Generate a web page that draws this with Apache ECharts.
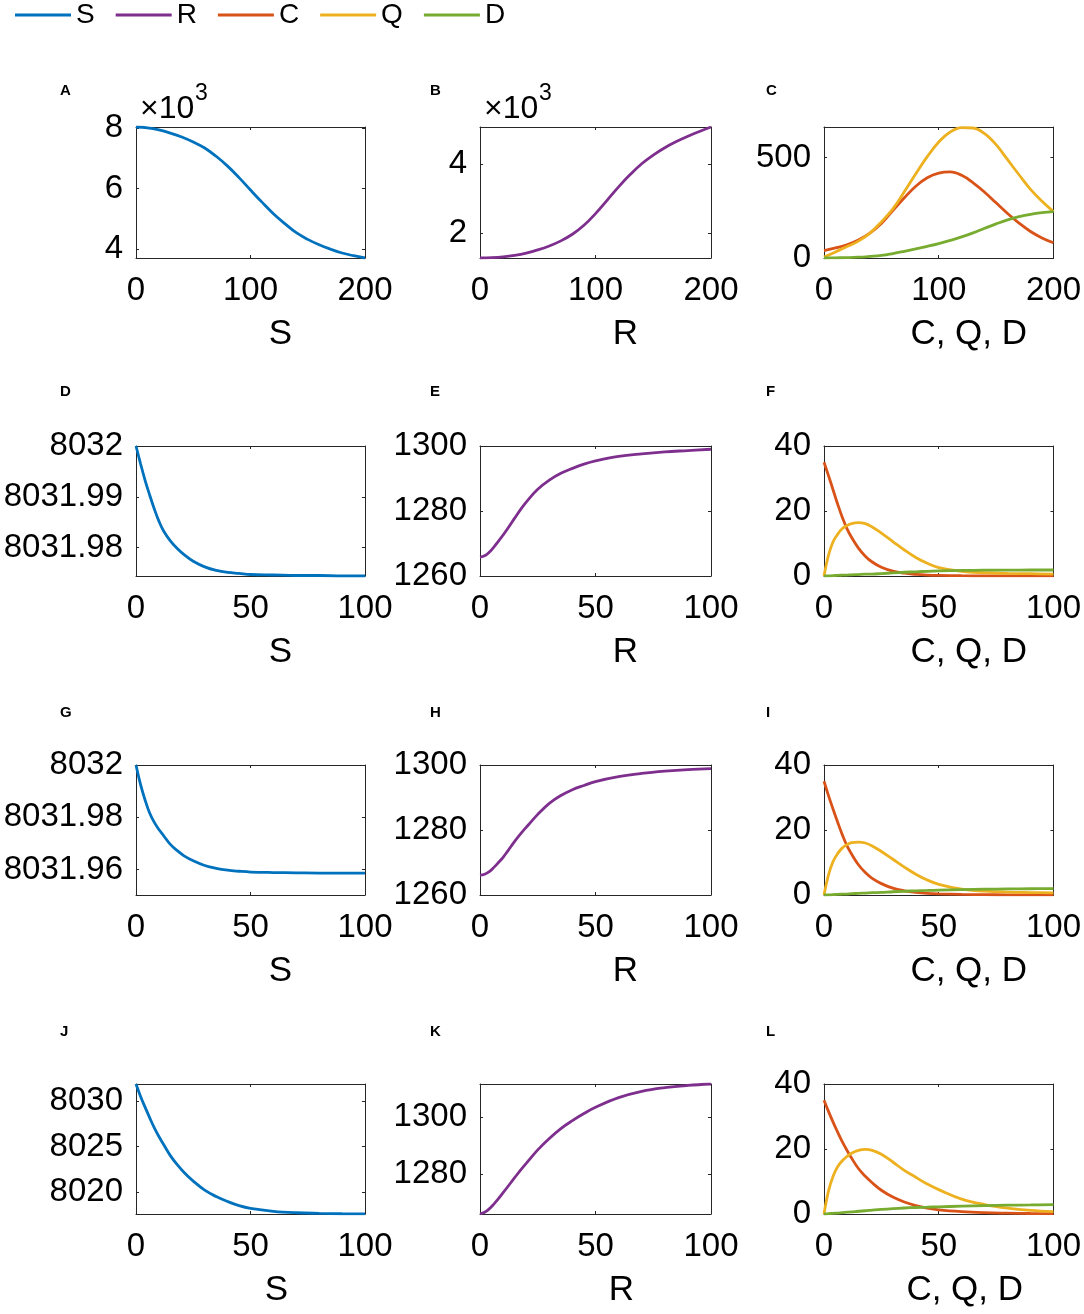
<!DOCTYPE html>
<html>
<head>
<meta charset="utf-8">
<script src="https://cdn.jsdelivr.net/npm/echarts@6/dist/echarts.min.js"></script>
<style>
html,body{margin:0;padding:0;background:#fff;}
#chart{width:1084px;height:1314px;}
</style>
</head>
<body>
<div id="chart"></div>
<script>
// ---------- DATA ----------
const seriesNames = ['S', 'R', 'C', 'Q', 'D'];
const panelLetters = ['A','B','C','D','E','F','G','H','I','J','K','L'];
const xLabels = ['S', 'R', 'C, Q, D'];

// time grids
const tMid = [0,10,20,30,40,50,60,70,80,90,100,110,120,130,140,150,160,170,180,190,200];
const tShort = [0,2,4,6,8,10,12,15,18,21,25,30,35,40,45,50,60,70,80,90,100];

// x ticks
const xTicksLong = [0,100,200];
const xTicksShort = [0,50,100];

// Row 1 (A, B, C)
const A_S = [8032,8005,7935,7830,7700,7535,7340,7065,6740,6360,5950,5550,5170,4840,4540,4320,4140,3995,3870,3780,3705];
const B_R = [1265,1275,1300,1345,1410,1500,1615,1765,1958,2220,2560,2950,3342,3700,4016,4270,4485,4665,4821,4960,5090];
const C_C = [37,50,66,90,124,172,236,300,358,400,423,429,412,375,328,275,222,174,132,100,76];
const C_Q = [5,30,57,84,124,180,245,330,420,505,578,628,650,648,620,565,490,415,342,283,231];
const C_D = [0,1,2,4,8,13,22,33,45,58,72,88,105,125,148,170,190,206,218,226,231];

// Row 2 (D, E, F)
const D_S = [8032.0000,8031.9965,8031.9932,8031.9903,8031.9876,8031.9852,8031.9833,8031.9813,8031.9798,8031.9786,8031.9773,8031.9762,8031.9755,8031.9751,8031.9749,8031.9747,8031.9746,8031.9745,8031.9745,8031.9744,8031.9744];
const E_R = [1265.8,1266.2,1267.3,1268.9,1270.7,1272.6,1274.6,1277.8,1280.9,1283.6,1286.7,1289.5,1291.6,1293.1,1294.4,1295.4,1296.8,1297.6,1298.2,1298.6,1299.0];
const F_C = [35,30.8,26.4,22.0,18.0,14.6,11.9,8.6,6.1,4.3,2.7,1.5,0.85,0.5,0.3,0.2,0.1,0.05,0.03,0.02,0.01];
const F_Q = [0,6.5,10.6,12.9,14.6,15.5,16.1,16.4,16.1,15.1,13.2,10.6,8.0,5.7,3.9,2.6,1.4,1.0,0.8,0.7,0.6];
const F_D = [0,0.05,0.1,0.2,0.25,0.3,0.35,0.45,0.55,0.6,0.75,0.95,1.15,1.3,1.45,1.55,1.7,1.78,1.82,1.84,1.85];

// Row 3 (G, H, I)
const G_S = [8032.0000,8031.9925,8031.9865,8031.9815,8031.9780,8031.9753,8031.9730,8031.9696,8031.9672,8031.9652,8031.9633,8031.9615,8031.9604,8031.9597,8031.9593,8031.9590,8031.9588,8031.9587,8031.9586,8031.9586,8031.9586];
const H_R = [1266.1,1266.4,1267.2,1268.5,1270.0,1271.6,1273.5,1276.5,1279.2,1281.6,1284.8,1288.2,1290.6,1292.4,1293.7,1294.9,1296.4,1297.4,1298.1,1298.6,1298.9];
const I_C = [35,30.5,26.3,22.3,18.5,15.2,12.6,9.3,6.9,5.1,3.5,2.1,1.3,0.8,0.5,0.35,0.2,0.1,0.06,0.04,0.03];
const I_Q = [0,6.3,10.4,12.8,14.5,15.5,16.1,16.3,16.0,15.1,13.4,11.0,8.6,6.4,4.6,3.3,1.8,1.2,0.9,0.75,0.65];
const I_D = [0,0.05,0.1,0.2,0.25,0.3,0.4,0.5,0.6,0.7,0.8,1.0,1.15,1.3,1.4,1.5,1.65,1.78,1.87,1.93,1.97];

// Row 4 (J, K, L)
const J_S = [8031.87,8030.5,8029.3,8028.15,8027.05,8026.1,8025.25,8024.0,8023.0,8022.15,8021.2,8020.2,8019.5,8018.95,8018.5,8018.2,8017.88,8017.72,8017.65,8017.61,8017.6];
const K_R = [1265.9,1266.5,1267.7,1269.4,1271.3,1273.4,1275.5,1278.7,1281.8,1284.7,1288.5,1292.5,1296.0,1298.8,1301.3,1303.5,1306.9,1309.1,1310.4,1311.2,1311.7];
const L_C = [35,31.5,28.2,25.1,22.2,19.6,17.2,14.0,11.6,9.6,7.3,5.2,3.7,2.6,1.8,1.25,0.7,0.4,0.25,0.15,0.1];
const L_Q = [0,7.2,11.7,14.6,16.4,17.7,18.7,19.6,19.9,19.6,18.4,16.0,13.4,11.3,9.2,7.5,4.6,2.9,1.8,1.1,0.7];
const L_D = [0,0.1,0.2,0.3,0.45,0.55,0.65,0.85,1.0,1.2,1.4,1.65,1.85,2.0,2.1,2.2,2.4,2.55,2.7,2.8,2.9];

// y-axis ranges and tick labels per panel
const yRanges = [
  [3705, 8032], [1265, 5090], [0, 653],
  [8031.9744, 8032], [1260, 1300], [0, 40],
  [8031.9502, 8032], [1260, 1300], [0, 40],
  [8017.58, 8031.87], [1265.9, 1311.7], [0, 40]
];
const yTicks = [
  [4000, 6000, 8000], [2000, 4000], [0, 500],
  [8031.98, 8031.99, 8032], [1260, 1280, 1300], [0, 20, 40],
  [8031.96, 8031.98, 8032], [1260, 1280, 1300], [0, 20, 40],
  [8020, 8025, 8030], [1280, 1300], [0, 20, 40]
];

// ---------- LAYOUT / STYLE ----------
const COLORS = {S:'#0072BD', R:'#7E2F8E', C:'#D95319', Q:'#EDB120', D:'#77AC30'};
const FONT = '"Liberation Sans", Arial, Helvetica, sans-serif';
const colLeft = [136, 480, 824];
const colWidth = [229, 231, 230];
const rowTop = [127, 446, 765, 1084];
const rowHeight = [131, 130, 130, 130];
const letterX = [60, 430, 766];
const letterY = [91, 392, 713, 1032];
const nameShift = [30, 30, 30, 26];
const BOX = '#262626';

const panels = [
  {t: tMid, xMax: 200, xt: xTicksLong, s: [['S', A_S]]},
  {t: tMid, xMax: 200, xt: xTicksLong, s: [['R', B_R]]},
  {t: tMid, xMax: 200, xt: xTicksLong, s: [['C', C_C], ['Q', C_Q], ['D', C_D]]},
  {t: tShort, xMax: 100, xt: xTicksShort, s: [['S', D_S]]},
  {t: tShort, xMax: 100, xt: xTicksShort, s: [['R', E_R]]},
  {t: tShort, xMax: 100, xt: xTicksShort, s: [['C', F_C], ['Q', F_Q], ['D', F_D]]},
  {t: tShort, xMax: 100, xt: xTicksShort, s: [['S', G_S]]},
  {t: tShort, xMax: 100, xt: xTicksShort, s: [['R', H_R]]},
  {t: tShort, xMax: 100, xt: xTicksShort, s: [['C', I_C], ['Q', I_Q], ['D', I_D]]},
  {t: tShort, xMax: 100, xt: xTicksShort, s: [['S', J_S]]},
  {t: tShort, xMax: 100, xt: xTicksShort, s: [['R', K_R]]},
  {t: tShort, xMax: 100, xt: xTicksShort, s: [['C', L_C], ['Q', L_Q], ['D', L_D]]}
];

function fmtY(i) {
  if (i < 2) return v => String(v / 1000);
  return v => String(Number(v.toFixed(2)));
}

const grid = [], xAxis = [], yAxis = [], series = [], graphic = [];
panels.forEach((p, i) => {
  const r = Math.floor(i / 3), c = i % 3;
  grid.push({left: colLeft[c], top: rowTop[r], width: colWidth[c], height: rowHeight[r], containLabel: false});
  const line = {show: true, onZero: false, lineStyle: {color: BOX, width: 1}};
  const tick = {show: true, inside: true, length: 3, lineStyle: {color: BOX, width: 1}};
  xAxis.push({
    type: 'value', gridIndex: i, position: 'bottom', min: 0, max: p.xMax,
    axisLine: line,
    axisTick: Object.assign({customValues: p.xt}, tick),
    axisLabel: {customValues: p.xt, margin: 16, fontSize: 33, color: '#000', fontFamily: FONT},
    splitLine: {show: false},
    name: xLabels[c], nameLocation: 'middle', nameGap: 59,
    nameTextStyle: {fontSize: 35, color: '#000', fontFamily: FONT, padding: [0, 0, 0, 2 * nameShift[r]]}
  });
  xAxis.push({
    type: 'value', gridIndex: i, position: 'top', min: 0, max: p.xMax,
    axisLine: line,
    axisTick: Object.assign({customValues: p.xt}, tick),
    axisLabel: {show: false}, splitLine: {show: false}
  });
  yAxis.push({
    type: 'value', gridIndex: i, position: 'left', min: yRanges[i][0], max: yRanges[i][1],
    axisLine: line,
    axisTick: Object.assign({customValues: yTicks[i]}, tick),
    axisLabel: {customValues: yTicks[i], formatter: fmtY(i), margin: 13, fontSize: 33, color: '#000', fontFamily: FONT},
    splitLine: {show: false}
  });
  yAxis.push({
    type: 'value', gridIndex: i, position: 'right', min: yRanges[i][0], max: yRanges[i][1],
    axisLine: line,
    axisTick: Object.assign({customValues: yTicks[i]}, tick),
    axisLabel: {show: false}, splitLine: {show: false}
  });
  p.s.forEach(([name, vals]) => {
    series.push({
      type: 'line', name: name, xAxisIndex: 2 * i, yAxisIndex: 2 * i,
      data: p.t.map((tt, k) => [tt, vals[k]]),
      smooth: 0.4, showSymbol: false, symbol: 'none',
      lineStyle: {color: COLORS[name], width: 2.8},
      itemStyle: {color: COLORS[name]},
      clip: true, animation: false, z: name === 'D' ? 3 : 2
    });
  });
  graphic.push({
    type: 'text', x: letterX[c], y: letterY[r],
    style: {text: panelLetters[i], fontSize: 15, fontWeight: 'bold', fontFamily: FONT, fill: '#000', verticalAlign: 'middle'}
  });
});

[0, 1].forEach(c => {
  graphic.push({type: 'text', x: colLeft[c] + 4, y: 109,
    style: {text: '×10', fontSize: 32, fontFamily: FONT, fill: '#000', verticalAlign: 'middle'}});
  graphic.push({type: 'text', x: colLeft[c] + 59, y: 94,
    style: {text: '3', fontSize: 23, fontFamily: FONT, fill: '#000', verticalAlign: 'middle'}});
});

const chart = echarts.init(document.getElementById('chart'), null, {renderer: 'canvas'});
chart.setOption({
  backgroundColor: '#fff',
  animation: false,
  legend: {
    data: seriesNames, left: 15, top: 1, padding: 0,
    icon: 'rect', itemWidth: 56, itemHeight: 3, itemGap: 21,
    selectedMode: false,
    textStyle: {fontSize: 28, color: '#000', fontFamily: FONT}
  },
  grid: grid, xAxis: xAxis, yAxis: yAxis, series: series, graphic: graphic
});
</script>
</body>
</html>
